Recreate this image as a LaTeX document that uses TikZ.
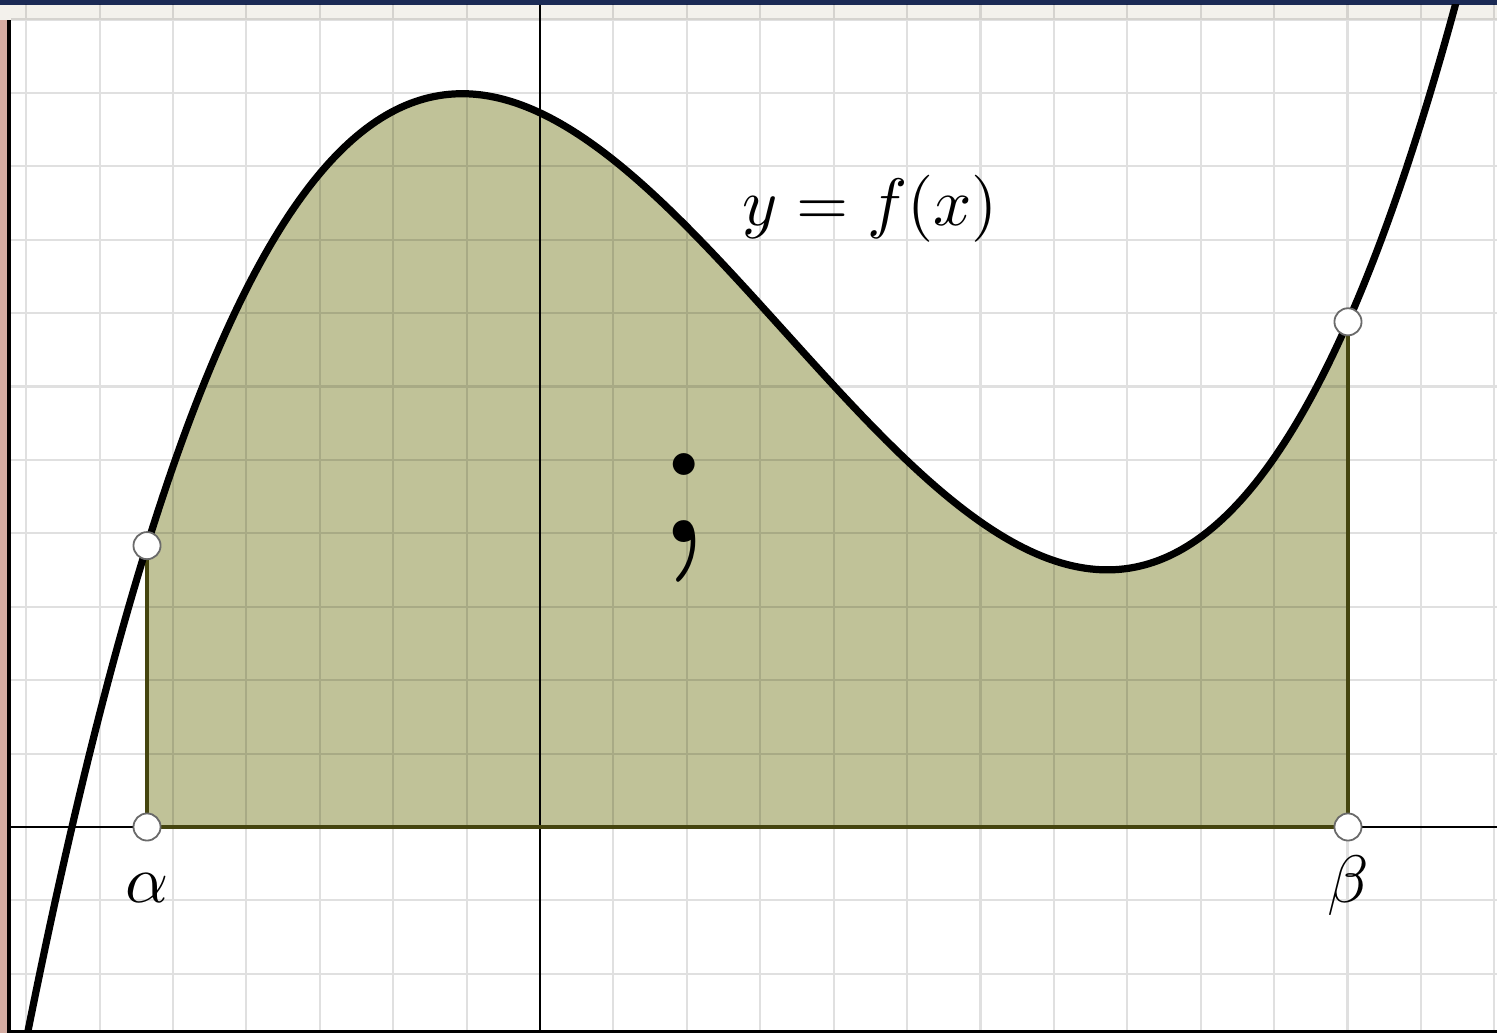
\documentclass[tikz,border=0pt]{standalone}
\usepackage{amsmath}
\usepackage{xcolor}
\usetikzlibrary{positioning,backgrounds}
\definecolor{cFill}{HTML}{C0C298}
\definecolor{cEdge}{HTML}{45450F}
\definecolor{cRing}{HTML}{6A6A6A}
\definecolor{cTop}{HTML}{1B2A55}
\definecolor{cBand}{HTML}{F3F1EC}
\definecolor{cSkin}{HTML}{D4ACA2}
\tikzset{
  gridl/.style={draw=black, draw opacity=0.12, line width=0.85pt},
  axis/.style={draw=black, line width=0.9pt},
  curve/.style={draw=black, line width=2.8pt, line join=round},
  edge/.style={draw=cEdge, line width=1.4pt},
  pt/.style={circle, draw=cRing, fill=white, line width=0.7pt,
             inner sep=0pt, minimum size=10.5pt},
  lbl/.style={scale=2.6, inner sep=0pt},
  declare function={f(\x)=0.01911*(\x*\x*\x-10.005*\x*\x-24.58*\x)+9.73;},
}

\begin{document}
\begin{tikzpicture}[x=1cm, y=1cm]
  \useasboundingbox (-7.357,-2.807) rectangle (13.038,11.267);

  % points on the curve and on the axis
  \node[pt] (a)  at (-5.354,{f(-5.354)}) {};
  \node[pt] (b)  at (11.008,{f(11.008)}) {};
  \node[pt] (a0) at (-5.354,0) {};
  \node[pt] (b0) at (11.008,0) {};

  % labels
  \node[lbl, anchor=base] (fx) at (4.50,8.20) {$y=f(x)$};
  \node[lbl, anchor=base] (la) at (-5.354,-1.035) {$\alpha$};
  \node[lbl, anchor=base] (lb) at (11.008,-1.035) {$\beta$};
  \node[anchor=base, inner sep=0pt, scale=8] (semi) at (1.962,3.88) {;};

  \begin{scope}[on background layer]
    % screenshot frame
    \fill[white] (-7.357,-2.807) rectangle (13.038,11.267);
    \fill[cSkin] (-7.357,-2.807) rectangle (-7.25,11.267);
    \fill[cBand] (-7.357,10.995) rectangle (13.038,11.2);
    \fill[cTop] (-7.357,11.2) rectangle (13.038,11.267);
    \fill[black] (-7.257,-2.807) rectangle (-7.207,10.995);
    \fill[black] (-7.207,-2.807) rectangle (13.038,-2.766);

    % area under the curve
    \fill[cFill] (-5.354,0) -- plot[domain=-5.354:11.008, samples=200] (\x,{f(\x)}) -- (11.008,0) -- cycle;

    % grid
    \begin{scope}
      \clip (-7.207,-2.766) rectangle (13.038,11.2);
      \draw[gridl] (-7.357,-2.807) grid (13.038,11.267);
    \end{scope}

    % axes
    \draw[axis] (-7.207,0) -- (13.038,0);
    \draw[axis] (0,-2.766) -- (0,11.2);

    % edges of the area
    \draw[edge] (a) -- (a0) -- (b0) -- (b);

    % y = f(x)
    \begin{scope}
      \clip (-7.207,-2.766) rectangle (13.038,11.2);
      \draw[curve] plot[domain=-7.2:12.6, samples=300] (\x,{f(\x)});
    \end{scope}
  \end{scope}
\end{tikzpicture}
\end{document}
